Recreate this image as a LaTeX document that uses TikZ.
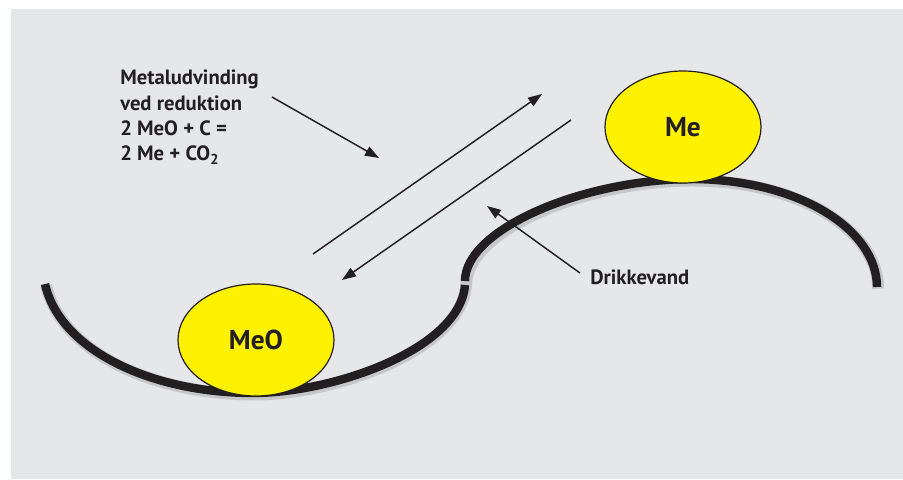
\documentclass[tikz,border=0pt]{standalone}
\usepackage{fontspec}
\setmainfont{PT Sans}
\usetikzlibrary{arrows.meta,shapes.geometric}
\definecolor{bg}{HTML}{E6E7E9}
\definecolor{yel}{HTML}{FFF200}
\definecolor{ink}{HTML}{231F20}
\definecolor{halo}{HTML}{C6C7C9}
\begin{document}
\begin{tikzpicture}[x=0.75pt,y=-0.75pt,
  arr/.style={draw=ink, line width=1.1pt, -{Triangle[length=10.5pt,width=7.5pt]}},
  ball/.style={ellipse, draw=ink, line width=0.9pt, fill=yel, minimum width=117pt, minimum height=84pt, inner sep=0pt, text=ink, font=\bfseries\fontsize{20.5}{24}\selectfont},
  lbl/.style={font=\bfseries\fontsize{15.5}{19}\selectfont, text=ink, inner sep=0pt},
  track/.style={draw=ink, line width=6.3pt},
  trackhalo/.style={draw=halo, line width=8.8pt}]
\useasboundingbox (0,0) rectangle (903,479);
\fill[bg] (11,9) rectangle (903,479);
% track (halo, then black)
\begin{scope}[shift={(1.2,1.6)}]
\draw[trackhalo] (45,284) .. controls (60,350) and (150,392) .. (250,393)
  .. controls (330,394) and (460,350) .. (465,283)
  .. controls (465,230) and (580,180) .. (690,179)
  .. controls (800,179) and (877,230) .. (877,287);
\end{scope}
\draw[track] (45,284) .. controls (60,350) and (150,392) .. (250,393)
  .. controls (330,394) and (460,350) .. (465,285);
\draw[track] (465,281) .. controls (465,230) and (580,180) .. (690,179)
  .. controls (800,179) and (877,230) .. (877,287);
% balls
\node[ball] (meo) at (256,340) {MeO};
\node[ball] (me) at (683,127) {Me};
% labels
\node[lbl, anchor=north west, align=left] (eq) at (120,70)
  {Metaludvinding\\ved reduktion\\2 MeO + C =\\2 Me + CO\textsubscript{2}};
\node[lbl, anchor=west] (water) at (590,277) {Drikkevand};
% arrow coordinates
\coordinate (a1s) at (272,97);
\coordinate (a1e) at (379,158);
\coordinate (a2s) at (313,254);
\coordinate (a2e) at (542,94);
\coordinate (a3s) at (571,120);
\coordinate (a3e) at (342,280);
\coordinate (a4e) at (487,206);
\draw[arr] (a1s) -- (a1e);
\draw[arr] (a2s) -- (a2e);
\draw[arr] (a3s) -- (a3e);
\draw[arr] (water.west) ++(-10,-4) coordinate (a4s) -- (a4e);
\end{tikzpicture}
\end{document}
